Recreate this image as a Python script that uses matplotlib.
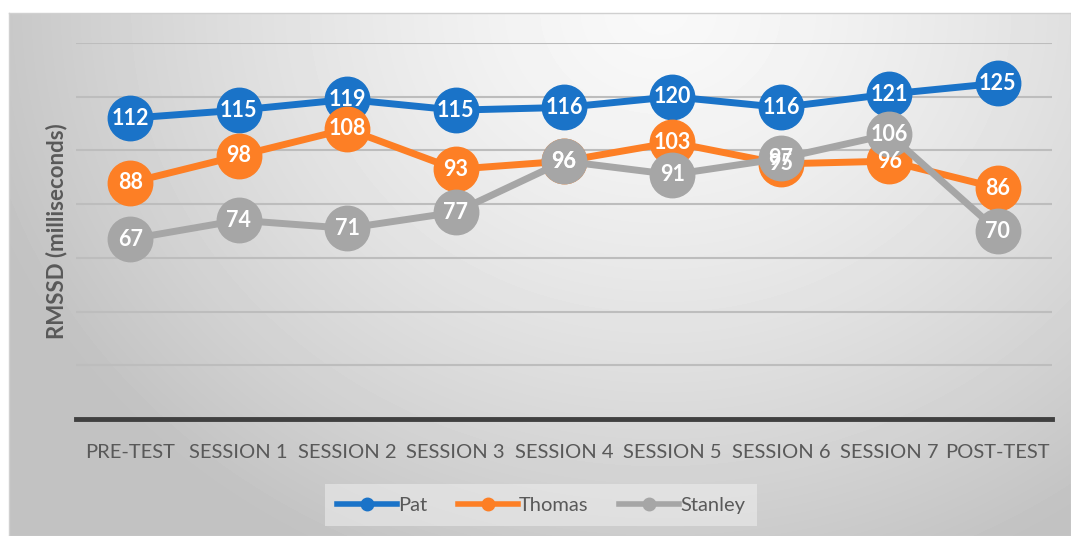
import numpy as np
import matplotlib
matplotlib.use('Agg')
import matplotlib.pyplot as plt
from matplotlib.lines import Line2D

plt.rcParams['font.family'] = ['Lato', 'DejaVu Sans']

sessions = ['PRE-TEST', 'SESSION 1', 'SESSION 2', 'SESSION 3', 'SESSION 4',
            'SESSION 5', 'SESSION 6', 'SESSION 7', 'POST-TEST']
pat = [112, 115, 119, 115, 116, 120, 116, 121, 125]
thomas = [88, 98, 108, 93, 96, 103, 95, 96, 86]
stanley = [67, 74, 71, 77, 96, 91, 97, 106, 70]
names = ['Pat', 'Thomas', 'Stanley']
C = {'Pat': '#1A73C8', 'Thomas': '#FD7F25', 'Stanley': '#A6A6A6'}

W, H = 1071, 536
fig = plt.figure(figsize=(W / 100, H / 100), dpi=100)

# radial gray background of the chart frame
bg = fig.add_axes([9 / W, 0, 1 - 9 / W, 1 - 13 / H], zorder=-10)
yy, xx = np.mgrid[13:536, 9:1071]
r = np.sqrt(((xx - 660) / 720.0) ** 2 + ((yy - 10) / 620.0) ** 2)
shade = np.clip(0.975 - 0.22 * r ** 1.4, 0.76, 0.98)
bg.imshow(shade, cmap='gray', vmin=0, vmax=1, aspect='auto',
          extent=[0, 1, 0, 1], interpolation='bilinear')
bg.set_xticks([]); bg.set_yticks([])
for s in bg.spines.values():
    s.set_color('#d0d0d0'); s.set_linewidth(1)

ax = fig.add_axes([76 / W, (H - 419) / H, (1052 - 76) / W, (419 - 43) / H])
ax.patch.set_alpha(0)
x = np.arange(len(sessions))
series = [pat, thomas, stanley]
for k, (nm, vals) in enumerate(zip(names, series)):
    ax.plot(x, vals, '-o', color=C[nm], lw=5, ms=32, zorder=3 + k,
            solid_capstyle='round', clip_on=False)
for nm, vals in zip(names, series):
    for xi, v in zip(x, vals):
        ax.text(xi, v, str(v), ha='center', va='center', color='white',
                fontweight='bold', fontsize=15.5, zorder=10)

ax.set_xlim(-0.5, len(sessions) - 0.5)
ax.set_ylim(0, 140)
ax.set_yticks(np.arange(20, 141, 20))
ax.yaxis.grid(True, color='#bdbdbd', lw=1.5)
ax.set_axisbelow(True)
ax.tick_params(axis='y', length=0, labelleft=False)
ax.tick_params(axis='x', length=0, pad=18, labelsize=14.5, labelcolor='#595959')
ax.set_xticks(x)
ax.set_xticklabels(sessions)
for s in ['top', 'right', 'left']:
    ax.spines[s].set_visible(False)
ax.spines['bottom'].set_color('#404040')
ax.spines['bottom'].set_linewidth(3.5)
ax.set_ylabel('RMSSD (milliseconds)', fontsize=16, fontweight='bold',
              color='#595959', labelpad=6)

handles = [Line2D([0], [0], color=C[nm], lw=4, marker='o', ms=9) for nm in names]
leg = fig.legend(handles, names, loc='center', bbox_to_anchor=(541 / W, 31 / H),
                 ncol=3, frameon=True, fontsize=14.5, handlelength=3.0,
                 handletextpad=0.05, columnspacing=1.5, borderpad=0.6)
leg.get_frame().set_facecolor('#ececec')
leg.get_frame().set_alpha(0.6)
leg.get_frame().set_edgecolor('none')
leg.get_frame().set_boxstyle('square', pad=0)
for t in leg.get_texts():
    t.set_color('#595959')

fig.savefig('out.png', dpi=100)
